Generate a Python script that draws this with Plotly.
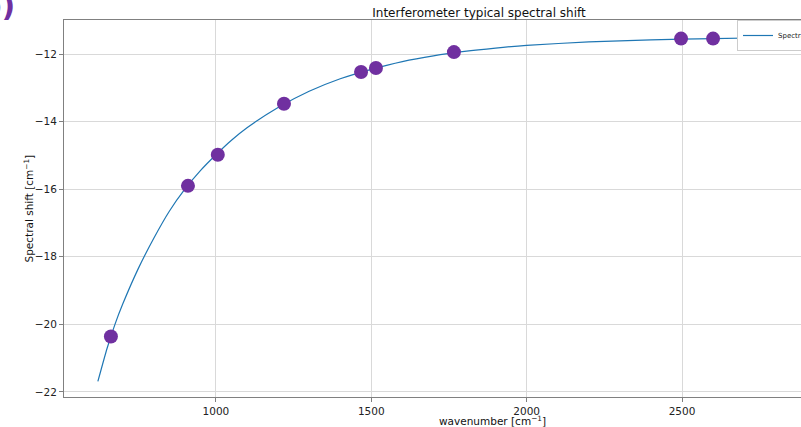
import plotly.graph_objects as go

# Measured points (purple markers)
point_wavenumber = [662, 910, 1006, 1219, 1467, 1515, 1766, 2497, 2600]
point_shift = [-20.36, -15.90, -14.98, -13.47, -12.53, -12.41, -11.94, -11.54, -11.54]

# Fitted curve
curve_wavenumber = [620, 650, 675, 700, 750, 800, 850, 900, 950, 1000, 1050, 1100,
                    1200, 1300, 1400, 1500, 1600, 1700, 1800, 1900, 2000, 2200,
                    2400, 2600, 2800]
curve_shift = [-21.69, -20.70, -20.00, -19.40, -18.35, -17.45, -16.65, -16.00, -15.45,
               -14.98, -14.55, -14.18, -13.58, -13.10, -12.73, -12.45, -12.22, -12.05,
               -11.92, -11.82, -11.74, -11.64, -11.58, -11.54, -11.51]

x_ticks = [1000, 1500, 2000, 2500]
y_ticks = [-22, -20, -18, -16, -14, -12]

W, H = 801, 427
L, R, T, B = 64, 0, 20, 30
pw = W - L - R
ph = H - T - B

font = "DejaVu Sans, Liberation Sans, sans-serif"

fig = go.Figure()
fig.add_trace(go.Scatter(
    x=curve_wavenumber, y=curve_shift, mode="lines", name="Spectral shift",
    line=dict(color="#1f77b4", width=1.2, shape="spline", smoothing=0.6),
))
fig.add_trace(go.Scatter(
    x=point_wavenumber, y=point_shift, mode="markers", showlegend=False,
    marker=dict(color="#7030a0", size=14, line=dict(width=0)),
))

axis_common = dict(
    showgrid=True, gridcolor="#d9d9d9", gridwidth=1, zeroline=False,
    showline=True, linecolor="#808080", linewidth=1,
    ticks="outside", ticklen=4, tickcolor="#808080", tickwidth=1,
    tickfont=dict(family=font, size=10.5, color="#222222"),
)

fig.update_layout(
    width=W, height=H,
    margin=dict(l=L, r=R, t=T, b=B, autoexpand=False),
    paper_bgcolor="white", plot_bgcolor="white",
    font=dict(family=font, color="#222222"),
    title=dict(text="Interferometer typical spectral shift",
               x=(479 - L) / pw, xref="paper", xanchor="center",
               y=1 - 13 / H, yanchor="middle",
               font=dict(family=font, size=12, color="#111111")),
    xaxis=dict(range=[511, 2883], tickvals=x_ticks, mirror=True, **axis_common),
    yaxis=dict(range=[-22.15, -10.99], tickvals=y_ticks, **axis_common),
    legend=dict(x=(737 - L) / pw, xanchor="left", y=1.0, yanchor="top",
                bgcolor="white", bordercolor="#cccccc", borderwidth=1,
                font=dict(family=font, size=7, color="#222222"),
                itemwidth=30, tracegroupgap=0),
    showlegend=True,
    annotations=[
        dict(text="wavenumber [cm<sup>−1</sup>]", xref="paper", yref="paper",
             x=(492 - L) / pw, y=-(420 - T - ph) / ph, xanchor="center", yanchor="middle",
             showarrow=False, font=dict(family=font, size=10.5, color="#111111")),
        dict(text="Spectral shift [cm<sup>−1</sup>]", xref="paper", yref="paper",
             x=(28 - L) / pw, y=0.5, xanchor="center", yanchor="middle", textangle=-90,
             showarrow=False, font=dict(family=font, size=10.5, color="#111111")),
        dict(text="<b>b)</b>", xref="paper", yref="paper",
             x=(17 - L) / pw, y=1 + (T - 6) / ph, xanchor="right", yanchor="middle",
             showarrow=False, font=dict(family=font, size=30, color="#7030a0")),
    ],
)

fig.write_html("out.html", config={"displayModeBar": False},
               post_script="document.body.style.margin='0px';")
